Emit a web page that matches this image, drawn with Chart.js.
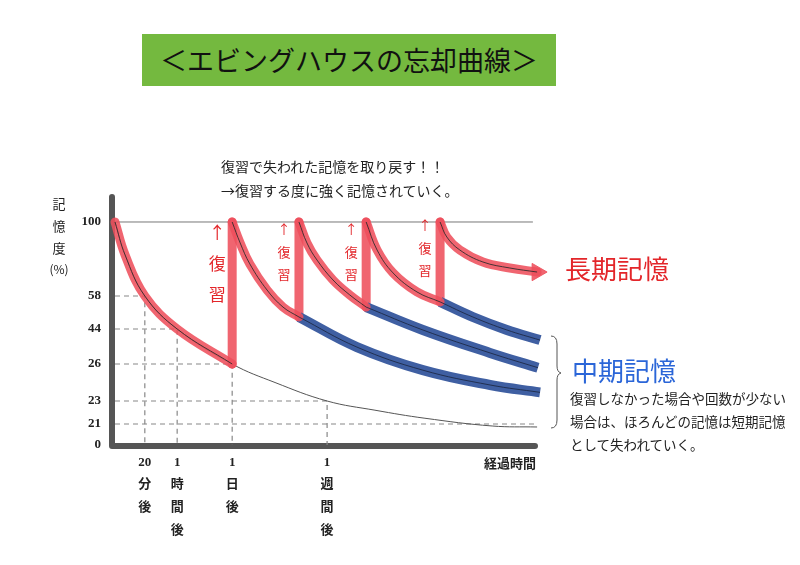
<!DOCTYPE html>
<html lang="ja">
<head>
<meta charset="utf-8">
<title>エビングハウスの忘却曲線</title>
<script src="https://cdn.jsdelivr.net/npm/chart.js@4.4.1/dist/chart.umd.min.js"></script>
<style>
  body { margin: 0; background: #fff; font-family: 'Noto Sans CJK JP', sans-serif; }
  #wrap { position: relative; width: 800px; height: 565px; overflow: hidden; }
  #chart { position: absolute; left: 0; top: 0; }
  .title { position: absolute; left: 142px; top: 34px; width: 414px; height: 52px; background: #74b93f;
           color: #111; font-size: 27px; line-height: 52px; text-align: center; }
  .msg { position: absolute; left: 221px; font-size: 14px; line-height: 20px; color: #222; white-space: nowrap; }
  .big { position: absolute; font-size: 26px; line-height: 30px; white-space: nowrap; }
  .note { position: absolute; left: 570px; top: 387px; font-size: 13.5px; line-height: 23px; color: #222; white-space: nowrap; }
</style>
</head>
<body>
<div id="wrap">
  <canvas id="chart" width="800" height="565"></canvas>
  <div class="title">＜エビングハウスの忘却曲線＞</div>
  <div class="msg" style="top:156px">復習で失われた記憶を取り戻す！！</div>
  <div class="msg" style="top:180px">→復習する度に強く記憶されていく。</div>
  <div class="big" style="left:565px; top:253px; color:#e3262a">長期記憶</div>
  <div class="big" style="left:572px; top:355px; color:#2b66d8">中期記憶</div>
  <div class="note">復習しなかった場合や回数が少ない<br>場合は、ほろんどの記憶は短期記憶<br>として失われていく。</div>
</div>
<script>
// time axis is schematic (0..100), memory axis in %
const timeTicks = [7.1, 14.8, 27.9, 50.5];
const timeLabels = [['20', '分', '後'], ['1', '時', '間', '後'], ['1', '日', '後'], ['1', '週', '間', '後']];
const memTicks = [0, 21, 23, 26, 44, 58, 100];
const guideValues = [58, 44, 26, 23];

// forgetting curve without review
const forgetT = [0, 2.4, 7.1, 14.8, 27.9, 38.1, 50.5, 61.9, 73.8, 89.8, 100.5];
const forgetV = [100, 81.3, 58, 44, 26, 24.5, 23, 22.2, 21.5, 19, 18];

// red = curves after each review, blue = mid-term memory
const redT = [
  [0, 2.4, 7.1, 14.8, 27.9],
  [27.9, 29.8, 32.1, 36.2, 40.0, 43.8],
  [43.8, 45.7, 48.1, 51.9, 55.9, 59.8],
  [59.8, 62.4, 66.2, 71.9, 77.4],
  [77.4, 79.0, 82.1, 87.6, 94.0, 100.5]
];
const redV = [
  [100, 81.3, 58, 44, 26],
  [100, 88.1, 76.2, 61.4, 53.3, 49.1],
  [100, 88.1, 78.4, 67.1, 58.6, 53.3],
  [100, 84.1, 71.1, 60.3, 55.5],
  [100, 91.5, 84.1, 77.3, 73.9, 71.6]
];
const blueT = [
  [43.8, 57.6, 73.3, 89.3, 101.2],
  [59.8, 73.3, 89.3, 100.7],
  [77.4, 85.2, 93.3, 101.2]
];
const blueV = [
  [49.1, 34.7, 25.5, 24.3, 23.7],
  [53.3, 43.5, 31.7, 25.7],
  [55.5, 49.1, 43.5, 38.3]
];

// where each memory tick sits on the axis (fraction of height)
const memFrac = [0, 0.0847, 0.1774, 0.3266, 0.4677, 0.6008, 0.8992];

class BrokenScale extends Chart.LinearScale {
  breaks() {
    return this.chart.config.options.scales[this.id].breaks;
  }
  getPixelForValue(v) {
    const b = this.breaks();
    let f = b[b.length - 1][1];
    if (v <= b[0][0]) f = b[0][1];
    else {
      for (let i = 1; i < b.length; i++) {
        if (v <= b[i][0]) {
          f = b[i - 1][1] + (v - b[i - 1][0]) / (b[i][0] - b[i - 1][0]) * (b[i][1] - b[i - 1][1]);
          break;
        }
      }
    }
    return this.getPixelForDecimal(f);
  }
  getValueForPixel(p) {
    const b = this.breaks();
    const f = this.getDecimalForPixel(p);
    for (let i = 1; i < b.length; i++) {
      if (f <= b[i][1]) {
        return b[i - 1][0] + (f - b[i - 1][1]) / (b[i][1] - b[i - 1][1]) * (b[i][0] - b[i - 1][0]);
      }
    }
    return b[b.length - 1][0];
  }
}
BrokenScale.id = 'broken';
BrokenScale.defaults = Chart.LinearScale.defaults;
Chart.register(BrokenScale);

const pts = (ts, vs) => ts.map((t, i) => ({x: t, y: vs[i]}));

const RED = 'rgba(238, 80, 92, 0.88)';
const BLUE = '#3f5fa2';
const INK = 'rgba(40, 40, 40, 0.85)';
const CURVE = 0.4;

const datasets = [];

// dashed guides
timeTicks.forEach((t, i) => {
  datasets.push({
    data: [{x: 0, y: guideValues[i]}, {x: t, y: guideValues[i]}, {x: t, y: 0}],
    borderColor: '#888', borderWidth: 1.2, borderDash: [5, 4], order: 20
  });
});
datasets.push({
  data: [{x: 0, y: 21}, {x: 100, y: 21}],
  borderColor: '#888', borderWidth: 1.2, borderDash: [5, 4], order: 20
});
datasets.push({
  data: [{x: 0, y: 100}, {x: 99.5, y: 100}],
  borderColor: '#777', borderWidth: 1, order: 20
});

// forgetting curve (thin)
datasets.push({
  data: pts(forgetT, forgetV),
  borderColor: '#555', borderWidth: 1, tension: CURVE, order: 15
});

// review jumps
for (let k = 1; k < redT.length; k++) {
  const prev = redV[k - 1];
  datasets.push({
    data: [{x: redT[k][0], y: prev[prev.length - 1]}, {x: redT[k][0], y: 100}],
    borderColor: RED, borderWidth: 9, borderCapStyle: 'round', order: 8
  });
}

// blue mid-term curves
blueT.forEach((ts, k) => {
  datasets.push({
    data: pts(ts, blueV[k]),
    borderColor: BLUE, borderWidth: 10, borderCapStyle: 'butt', tension: CURVE, order: 6
  });
  datasets.push({
    data: pts(ts, blueV[k]),
    borderColor: 'rgba(25, 35, 60, 0.8)', borderWidth: 1, tension: CURVE, order: 2
  });
});

// red curves
redT.forEach((ts, k) => {
  const last = k === redT.length - 1;
  datasets.push({
    data: pts(ts, redV[k]),
    borderColor: RED, borderWidth: 9, borderCapStyle: 'round', tension: CURVE, order: 5,
    pointStyle: 'triangle',
    pointRotation: 90,
    pointRadius: c => (last && c.dataIndex === ts.length - 1) ? 10 : 0,
    pointBackgroundColor: RED, pointBorderColor: RED, pointBorderWidth: 1
  });
  datasets.push({
    data: pts(ts, redV[k]),
    borderColor: INK, borderWidth: 1, tension: CURVE, order: 1
  });
});

const labelFont = {family: '"Liberation Serif", "Noto Sans CJK JP", serif', size: 13, weight: 'bold'};

const sketch = {
  id: 'sketch',
  beforeDatasetsDraw(chart) {
    const {ctx, chartArea: a} = chart;
    ctx.save();
    ctx.strokeStyle = '#555';
    ctx.lineWidth = 6;
    ctx.lineCap = 'round';
    ctx.lineJoin = 'round';
    ctx.beginPath();
    ctx.moveTo(a.left - 3, a.top);
    ctx.lineTo(a.left - 3, a.bottom + 1);
    ctx.lineTo(a.right, a.bottom + 1);
    ctx.stroke();
    ctx.restore();
  },
  afterDraw(chart) {
    const {ctx, scales} = chart;
    ctx.save();
    ctx.textAlign = 'center';
    ctx.textBaseline = 'middle';

    // review labels
    ctx.fillStyle = '#e3262a';
    for (let k = 1; k < redT.length; k++) {
      const x = scales.x.getPixelForValue(redT[k][0]) - 15;
      if (k === 1) {
        ctx.font = '17px "Noto Sans CJK JP"';
        ctx.fillText('↑', x, 233);
        ctx.fillText('復', x, 264);
        ctx.fillText('習', x, 295);
      } else {
        const dy = k === 4 ? -4 : 0;
        ctx.font = '13px "Noto Sans CJK JP"';
        ctx.fillText('↑', x, 229 + dy);
        ctx.fillText('復', x, 252 + dy);
        ctx.fillText('習', x, 274 + dy);
      }
    }

    // y-axis title
    ctx.fillStyle = '#222';
    ctx.font = '13px "Noto Sans CJK JP"';
    ['記', '憶', '度'].forEach((s, i) => ctx.fillText(s, 59, 204 + i * 22));
    ctx.font = '12px "Noto Sans CJK JP"';
    ctx.fillText('(%)', 59, 269);

    // x-axis title
    ctx.font = 'bold 13px "Noto Sans CJK JP"';
    ctx.fillText('経過時間', 510, 463);

    // brace
    ctx.strokeStyle = '#555';
    ctx.lineWidth = 1;
    ctx.beginPath();
    ctx.moveTo(551, 336);
    ctx.quadraticCurveTo(557, 336, 557, 344);
    ctx.lineTo(557, 366);
    ctx.quadraticCurveTo(557, 372, 561, 373);
    ctx.quadraticCurveTo(557, 374, 557, 380);
    ctx.lineTo(557, 420);
    ctx.quadraticCurveTo(557, 428, 551, 428);
    ctx.stroke();
    ctx.restore();
  }
};

new Chart(document.getElementById('chart'), {
  type: 'line',
  data: {datasets: datasets},
  options: {
    responsive: false,
    animation: false,
    events: [],
    layout: {padding: {top: 197, right: 265, bottom: 0, left: 0}},
    elements: {point: {radius: 0, hoverRadius: 0}, line: {fill: false}},
    datasets: {line: {clip: false, tension: 0}},
    plugins: {legend: {display: false}, tooltip: {enabled: false}},
    scales: {
      x: {
        type: 'linear',
        min: 0,
        max: 100,
        grid: {display: false, drawTicks: false},
        border: {display: false},
        afterBuildTicks: s => { s.ticks = timeTicks.map(v => ({value: v})); },
        afterFit: s => { s.height = 120; },
        ticks: {
          autoSkip: false,
          maxRotation: 0,
          padding: 6,
          color: '#222',
          font: Object.assign({}, labelFont, {lineHeight: 1.75}),
          callback: (v, i) => timeLabels[i]
        }
      },
      y: {
        type: 'broken',
        min: 0,
        max: 110,
        breaks: memTicks.map((v, i) => [v, memFrac[i]]).concat([[110, 1]]),
        grid: {display: false, drawTicks: false},
        border: {display: false},
        afterBuildTicks: s => { s.ticks = memTicks.map(v => ({value: v})); },
        afterFit: s => { s.width = 115; },
        ticks: {padding: 14, color: '#222', font: labelFont}
      }
    }
  },
  plugins: [sketch]
});
</script>
</body>
</html>
